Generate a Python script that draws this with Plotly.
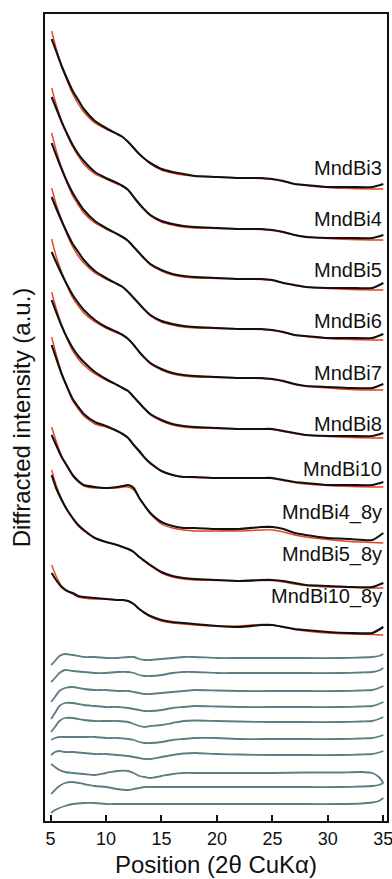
import plotly.graph_objects as go

# ---------------- data ----------------
two_theta = [5.1, 5.5, 6, 6.5, 7, 7.5, 8, 9, 10, 11, 11.5, 12, 12.5, 13, 13.5, 14,
             15, 16, 17, 18, 20, 22, 24, 25, 26, 27, 28, 30, 32, 34, 35]

samples = ["MndBi3", "MndBi4", "MndBi5", "MndBi6", "MndBi7", "MndBi8",
           "MndBi10", "MndBi4_8y", "MndBi5_8y", "MndBi10_8y"]

# stacking offsets (a.u.) for observed / fitted patterns
offsets = [632, 581, 531, 481, 431, 383, 334, 278, 233, 186]
# label heights (a.u.)
label_y = [653, 602, 551, 500, 448, 397, 352, 309, 267, 225]

obs_mndbi3 = [150, 138, 123, 110, 98, 89, 80, 68, 61, 55, 52, 47, 41, 35, 30, 26, 20, 17, 15, 13, 12, 11, 11, 10, 8, 5, 4, 2, 2, 2, 5]
fit_mndbi3 = [158, 141, 123, 108, 95, 85, 77, 66, 60, 55, 52, 47, 41, 35, 30, 25, 19, 16, 14, 13, 12, 11, 10.5, 9.5, 7.5, 5, 3.5, 1.5, 0.5, 0, 0]
obs_mndbi4 = [143, 132, 118, 106, 95, 86, 79, 68, 62, 57, 54, 50, 43, 36, 30, 25, 19, 16, 14, 13, 12, 11, 11, 10, 8, 5, 3, 2, 2, 2, 5]
fit_mndbi4 = [152, 136, 119, 105, 93, 84, 76, 66, 61, 56, 54, 50, 43, 36, 30, 24, 18, 15, 13, 12, 11.5, 11, 10.5, 9.5, 7.5, 5, 3.5, 1.5, 0.5, 0, 0]
obs_mndbi5 = [147, 135, 121, 108, 97, 88, 80, 69, 62, 56, 53, 49, 43, 37, 31, 26, 20, 16, 14, 13, 12, 11, 11, 10, 7, 5, 3, 2, 2, 2, 7]
fit_mndbi5 = [157, 140, 122, 107, 94, 85, 77, 67, 61, 56, 53, 49, 43, 37, 31, 25, 19, 15, 13, 12, 11.5, 11, 10.5, 9.5, 7, 4.5, 3, 1.5, 0.5, 0, 0]
obs_mndbi6 = [143, 132, 119, 107, 96, 88, 80, 69, 62, 56, 53, 48, 42, 36, 30, 25, 19, 16, 14, 13, 12, 11, 11, 10, 8, 5, 4, 2, 2, 2, 6]
fit_mndbi6 = [152, 136, 120, 105, 93, 84, 77, 67, 61, 56, 53, 48, 42, 36, 30, 24, 18, 15, 13, 12, 11.5, 11, 10.5, 9.5, 7.5, 5, 3.5, 1.5, 0.5, 0, 0]
obs_mndbi7 = [138, 128, 116, 105, 95, 87, 80, 70, 63, 58, 55, 51, 45, 38, 32, 27, 21, 17, 15, 14, 13, 12, 12, 11, 9, 6, 4, 3, 2, 2, 6]
fit_mndbi7 = [151, 134, 118, 104, 92, 84, 77, 68, 62, 57, 55, 51, 45, 38, 32, 26, 20, 16, 14, 13, 12.5, 12, 11.5, 10.5, 8.5, 5.5, 4, 2, 0.5, 0, 0]
obs_mndbi8 = [138, 126, 112, 100, 90, 82, 76, 66, 59, 53, 50, 47, 41, 35, 29, 24, 18, 14, 12, 11, 10, 9, 9, 9, 7, 5, 3, 2, 2, 2, 5]
fit_mndbi8 = [146, 130, 113, 99, 87, 79, 73, 64, 58, 53, 50, 47, 41, 35, 29, 23, 17, 13, 11, 10, 9.5, 9, 9, 8.5, 6.5, 4.5, 3, 1.5, 0.5, 0, 0]
obs_mndbi10 = [142, 129, 113, 100, 88, 80, 73, 65, 61, 56, 53, 49, 42, 36, 29, 24, 16, 12, 10, 10, 9, 9, 9, 9, 7, 5, 4, 2, 2, 2, 5]
fit_mndbi10 = [150, 133, 114, 99, 86, 78, 71, 63, 60, 56, 53, 49, 42, 35, 29, 23, 16, 12, 10, 9.5, 9, 9, 9, 8.5, 6.5, 4.5, 3, 1.5, 0.5, 0, 0]
obs_mndbi4_8y = [108, 98, 86, 77, 68, 62, 58, 56, 55, 56, 57, 58, 55, 45, 37, 30, 21, 17, 15, 15, 14, 14, 16, 16, 14, 10, 8, 5, 4, 3, 10]
fit_mndbi4_8y = [116, 102, 87, 76, 67, 61, 57, 55, 55, 55, 56, 56, 53, 45, 37, 29, 19, 15, 13, 12, 12, 12, 13, 13, 11, 8, 6, 3.5, 1.5, 0.5, 0]
obs_mndbi5_8y = [113, 100, 88, 78, 70, 63, 58, 50, 46, 43, 41, 39, 36, 31, 27, 23, 16, 12, 10, 9, 8, 7, 8, 8, 7, 5, 3, 2, 1, 1, 5]
fit_mndbi5_8y = [118, 103, 89, 78, 69, 62, 57, 50, 46, 43, 41, 39, 36, 31, 26, 22, 15, 11, 9, 8, 7.5, 7, 7.5, 7.5, 6, 4, 2.5, 1, 0.5, 0, 0]
obs_mndbi10_8y = [62, 55, 48, 44, 42, 39, 38, 37, 36, 35, 35, 34, 31, 26, 22, 19, 15, 13, 12, 11, 9, 8, 10, 10, 8, 6, 5, 3, 2, 2, 8]
fit_mndbi10_8y = [70, 59, 49, 44, 41, 38, 37, 36, 36, 35, 35, 34, 31, 26, 22, 18, 14, 12, 11, 10, 9, 9, 10.5, 10, 8, 5.5, 4, 2, 1, 0.5, 0]

# residuals (observed - fit), own stacking
two_theta_res = [5.05, 5.4, 5.8, 6.3, 7, 8, 9, 10, 11, 12, 12.5, 13, 13.5, 14, 15, 16,
                 17, 18, 20, 22, 25, 28, 31, 33, 34, 34.6, 35]
res_offsets = [163, 148, 130, 114, 99, 82, 66, 48, 34, 17]

res_mndbi3 = [-7, -3, 2, 4, 3, 1, 1, 0, 0, 1, 1, -1, -2, -2, -1, 0, 1, 1, 0, 0, 0, 0, 0, 0.5, 1, 2, 4]
res_mndbi4 = [-9, -5, 0, 3, 2, 1, 0, 0, 1, 1, 0, -2, -3, -3, -2, 0, 1, 1, 0, 0, 0, 0, 0, 0.5, 1, 2.5, 5]
res_mndbi5 = [-11, -6, 0, 3, 4, 2, 1, 1, 0, 0, -1, -2, -3, -3, -2, -1, 0, 1, 0.5, 0, 0, 0, 0, 0.5, 1, 3, 5]
res_mndbi6 = [-12, -6, 1, 4, 4, 2, 1, 0, 0, -1, -2, -3, -4, -4, -3, -1, 0, 1, 0.5, 0, 0, 0, 0, 0.5, 1, 3, 5]
res_mndbi7 = [-10, -5, 1, 4, 4, 2, 1, 1, 1, 0, -2, -4, -5, -4, -3, -1, 1, 1.5, 1, 0.5, 0, 0, 0, 0.5, 1, 3, 5]
res_mndbi8 = [-1, 1, 2, 2, 2, 2, 2, 1, 1, 0, -1, -3, -4, -4, -3, -1, 0, 1, 1, 0, 0, 0, 0, 0.5, 1, 2.5, 4]
res_mndbi10 = [0, 3, 4, 3, 3, 2, 1, 1, 0, -1, -2, -3, -4, -4, -2, 0, 1.5, 2, 1, 0.5, 0, 0, 0, 0.5, 1, 2.5, 4]
res_mndbi4_8y = [9, 6, 3, 1, 0, -1, -2, 0, 2, 2, 0, -3, -4, -5, -3, -1, 0, 0, 0, 0, 0, 0.5, 0.5, 1, 0, -4, -10]
res_mndbi5_8y = [-7, -3, 1, 4, 5, 3, 1, 0, -2, -3, -2, -1, 0, 0, 0, 0, 0, 0, 0, 0, 0, 0, 0, 0.5, 1, 2, 4]
res_mndbi10_8y = [-9, -6, -4, -2, 0, 1, 1, 0, 0, 0, 0, 0, 0, 0, 0, 0, 0, 0, 0, 0, 0, 0, 0, 0.5, 1.5, 3, 6]

observed = [obs_mndbi3, obs_mndbi4, obs_mndbi5, obs_mndbi6, obs_mndbi7, obs_mndbi8,
            obs_mndbi10, obs_mndbi4_8y, obs_mndbi5_8y, obs_mndbi10_8y]
fitted = [fit_mndbi3, fit_mndbi4, fit_mndbi5, fit_mndbi6, fit_mndbi7, fit_mndbi8,
          fit_mndbi10, fit_mndbi4_8y, fit_mndbi5_8y, fit_mndbi10_8y]
residuals = [res_mndbi3, res_mndbi4, res_mndbi5, res_mndbi6, res_mndbi7, res_mndbi8,
             res_mndbi10, res_mndbi4_8y, res_mndbi5_8y, res_mndbi10_8y]

# ---------------- figure ----------------
FONT = "Liberation Sans, Arial, sans-serif"
fig = go.Figure()

for name, off, obs, fit in zip(samples, offsets, observed, fitted):
    fig.add_trace(go.Scatter(x=two_theta, y=[v + off for v in fit], mode="lines",
                             line=dict(color="#e8421e", width=1.4, shape="spline", smoothing=0.6),
                             showlegend=False, hoverinfo="skip"))
    fig.add_trace(go.Scatter(x=two_theta, y=[v + off for v in obs], mode="lines",
                             line=dict(color="#111111", width=2.1, shape="spline", smoothing=0.6),
                             name=name, showlegend=False))

for name, off, res in zip(samples, res_offsets, residuals):
    fig.add_trace(go.Scatter(x=two_theta_res, y=[v + off for v in res], mode="lines",
                             line=dict(color="#5d7c83", width=1.8, shape="spline", smoothing=0.6),
                             showlegend=False, hoverinfo="skip"))

for name, ly in zip(samples, label_y):
    fig.add_annotation(x=35.1, y=ly, text=name, showarrow=False, xanchor="right",
                       yanchor="middle", font=dict(family=FONT, size=20, color="#111111"))

# x-axis title placed as a paper-anchored annotation for exact vertical position
fig.add_annotation(x=0.5, y=-0.0535, xref="paper", yref="paper", text="Position (2θ CuKα)",
                   showarrow=False, xanchor="center", yanchor="middle",
                   font=dict(family=FONT, size=24, color="#111111"))

fig.update_xaxes(range=[4.5, 35.33], tickvals=[5, 10, 15, 20, 25, 30, 35],
                 ticks="inside", ticklen=6, tickwidth=1.5, tickcolor="#111",
                 ticklabeloverflow="allow",
                 showline=True, linewidth=2, linecolor="#111", mirror=True,
                 showgrid=False, zeroline=False,
                 tickfont=dict(family=FONT, size=18, color="#111"))
fig.update_yaxes(range=[0, 807], showticklabels=False, ticks="",
                 showline=True, linewidth=2, linecolor="#111", mirror=True,
                 showgrid=False, zeroline=False,
                 title=dict(text="Diffracted intensity (a.u.)",
                            font=dict(family=FONT, size=24, color="#111"), standoff=6))

fig.update_layout(width=392, height=879, margin=dict(l=45, r=5, t=14, b=58, autoexpand=False),
                  plot_bgcolor="white", paper_bgcolor="white")

fig.write_html("out.html")
